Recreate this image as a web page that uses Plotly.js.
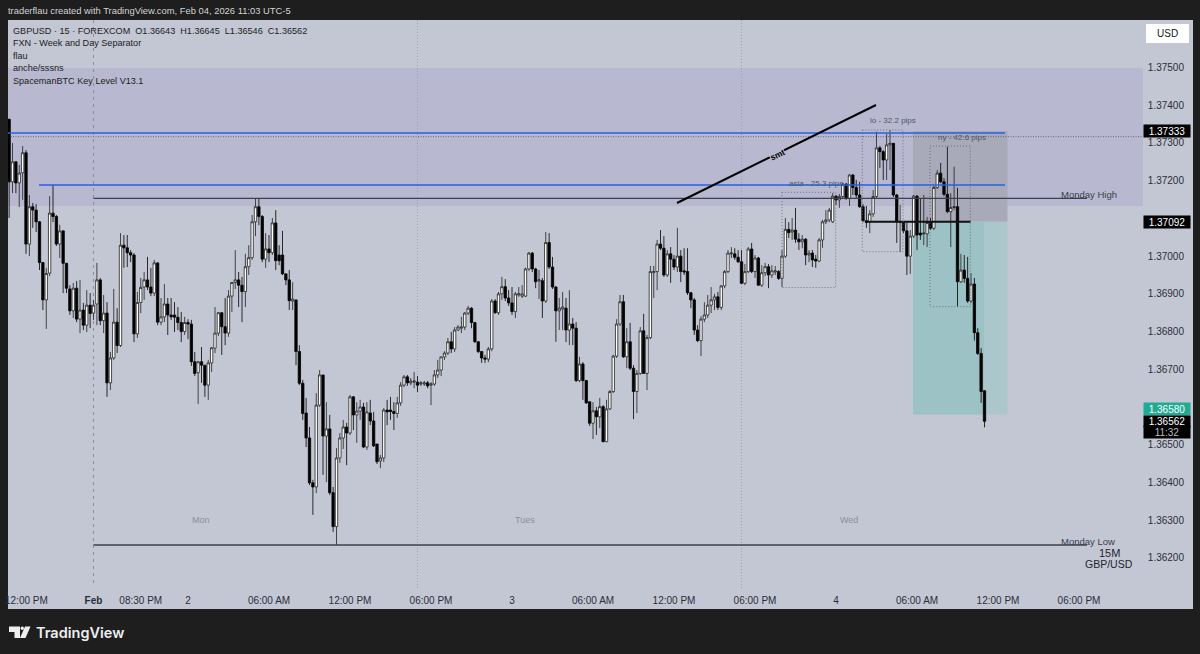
<!DOCTYPE html>
<html><head><meta charset="utf-8">
<script src="https://cdn.plot.ly/plotly-3.0.1.min.js"></script>
<style>html,body{margin:0;padding:0;background:#1e1e1e}#c{width:1200px;height:654px}</style>
</head><body><div id="c"></div>
<script>
// Candles in price points (1e-5), first bar = Friday, bar 0 = Sunday open. 15-minute bars.
const firstBar = -25;
const opens = [
137363,137197,137250,137194,137221,137274,137032,137131,137122,137091,
136983,136884,136955,137114,137105,137032,137067,136981,136913,136855,
136915,136833,136857,136817,136870,136849,136873,136937,136829,136849,
136664,136730,136825,136763,137029,137022,137009,137003,136794,136877,
136918,136937,136918,136902,136982,136825,136839,136873,136844,136844,
136838,136824,136800,136824,136820,136720,136691,136720,136711,136658,
136717,136756,136796,136850,136813,136796,136894,136930,136937,136923,
136906,136972,136996,137091,137131,137105,136992,137019,137009,137088,
137003,137003,136953,136937,136881,136884,136747,136663,136584,136518,
136399,136388,136605,136685,136523,136542,136373,136283,136465,136518,
136547,136531,136627,136579,136589,136600,136494,136584,136563,136502,
136457,136465,136592,136592,136588,136583,136611,136658,136680,136664,
136666,136666,136661,136661,136664,136658,136661,136685,136698,136733,
136743,136773,136754,136804,136809,136812,136849,136862,136824,136773,
136747,136730,136727,136754,136881,136850,136900,136919,136889,136876,
136853,136897,136894,136894,136966,137008,136966,136934,136935,136881,
137036,136971,136918,136855,136860,136862,136804,136820,136809,136670,
136714,136670,136614,136557,136590,136574,136601,136508,136595,136641,
136735,136820,136879,136733,136773,136703,136641,136689,136802,136689,
136784,136956,136959,137032,137021,136950,137006,136992,136971,137000,
136961,136959,136903,136884,136804,136776,136833,136844,136870,136884,
136892,136864,136921,136959,137006,137006,136997,136985,136928,136959,
137019,136959,136995,136923,136956,136972,136950,136958,136959,136941,
137000,137071,137064,137069,137045,137038,137045,137003,137008,136992,
136987,137043,137091,137096,137091,137159,137149,137158,137191,137153,
137215,137182,137162,137131,137094,137091,137112,137158,137287,137277,
137255,137295,137299,137162,137089,137089,137067,137000,137053,137159,
137061,137059,137059,137091,137074,137182,137220,137197,137164,137118,
137129,137131,136932,136963,136941,136881,136926,136797,136742,136643];
const closes = [
137197,137250,137194,137220,137274,137032,137131,137122,137091,136983,
136884,136954,137114,137105,137032,137067,136981,136915,136855,136915,
136833,136857,136817,136870,136848,136870,136937,136829,136849,136664,
136730,136825,136763,137029,137022,137009,137003,136794,136877,136917,
136937,136918,136902,136982,136825,136839,136873,136844,136839,136838,
136824,136800,136824,136820,136720,136689,136720,136711,136658,136717,
136757,136796,136850,136813,136796,136894,136930,136937,136923,136906,
136972,136996,137091,137131,137105,136992,137019,137009,137088,136988,
136988,136953,136937,136882,136886,136747,136663,136583,136518,136399,
136388,136605,136685,136523,136542,136373,136283,136465,136518,136547,
136531,136627,136579,136589,136600,136494,136587,136563,136497,136455,
136465,136592,136587,136588,136583,136611,136658,136680,136664,136669,
136669,136658,136664,136664,136656,136661,136685,136698,136733,136743,
136773,136754,136804,136812,136812,136849,136862,136824,136773,136747,
136730,136727,136754,136881,136850,136900,136919,136889,136876,136853,
136900,136900,136900,136966,137008,136966,136932,136937,136881,137036,
136971,136918,136855,136862,136865,136804,136820,136809,136670,136714,
136670,136611,136557,136590,136574,136601,136508,136595,136641,136735,
136820,136879,136733,136773,136703,136641,136689,136802,136689,136784,
136959,136959,137032,137021,136950,137006,136992,136971,137000,136959,
136958,136903,136884,136804,136776,136833,136844,136870,136884,136892,
136864,136921,136959,137008,137008,136997,136985,136928,136959,137019,
136959,136995,136923,136956,136972,136950,136961,136961,136941,137000,
137071,137062,137069,137045,137038,137045,137003,137008,136990,136987,
137043,137091,137096,137122,137159,137149,137158,137191,137153,137215,
137182,137162,137131,137094,137089,137112,137158,137287,137277,137255,
137295,137299,137162,137091,137091,137067,137000,137053,137159,137056,
137056,137061,137089,137074,137182,137220,137197,137164,137118,137129,
137131,136932,136963,136941,136881,136926,136797,136742,136641,136562];
const highs = [
137363,137300,137252,137242,137292,137281,137162,137141,137138,137093,
136984,136969,137159,137189,137109,137083,137067,136982,136923,136929,
136934,136937,136876,136910,136902,136884,136982,136942,136897,136878,
136746,136913,136862,137061,137056,137056,137016,137008,136905,136942,
136958,136998,136969,136990,136984,136889,136926,136889,136889,136878,
136865,136852,136839,136833,136831,136746,136722,136759,136711,136725,
136759,136865,136852,136852,136889,136910,136931,137016,136958,136945,
137006,137029,137109,137154,137154,137109,137061,137056,137101,137122,
137029,137067,136953,136963,136931,136884,136764,136672,136624,136547,
136407,136637,136698,136685,136613,136579,136388,136491,136531,136566,
136558,136632,136629,136613,136619,136611,136613,136619,136587,136502,
136473,136597,136619,136627,136613,136627,136666,136685,136685,136677,
136693,136682,136669,136669,136669,136666,136698,136725,136733,136748,
136783,136799,136812,136817,136839,136852,136868,136865,136825,136775,
136748,136738,136759,136886,136886,136905,136945,136939,136910,136918,
136905,136918,136923,136969,137011,137011,136969,136963,136942,137064,
137061,136998,136921,136889,136905,136889,136910,136836,136825,136733,
136719,136672,136614,136613,136600,136624,136605,136619,136645,136738,
136833,136897,136897,136809,136823,136711,136698,136812,136847,136791,
136974,136974,137043,137069,137053,137016,137024,137003,137075,137016,
137021,137021,136905,136889,136817,136841,136878,136897,136918,136900,
136905,136923,136963,137016,137024,137021,137016,137016,136979,137024,
137035,137003,136998,136976,136982,136979,136976,136974,136963,137016,
137101,137090,137101,137128,137061,137056,137048,137016,137016,137003,
137048,137096,137122,137128,137167,137162,137165,137194,137194,137218,
137218,137202,137197,137138,137133,137122,137175,137330,137292,137281,
137324,137334,137300,137165,137136,137090,137090,137069,137162,137162,
137154,137162,137104,137101,137186,137228,137247,137207,137290,137167,
137237,137181,137006,137003,136998,136955,136942,136809,136756,136645];
const lows = [
137101,137167,137167,137130,137149,137006,137000,137075,137064,136963,
136857,136807,136947,137090,137027,136995,136902,136902,136844,136836,
136825,136796,136804,136799,136809,136831,136817,136817,136796,136627,
136645,136725,136743,136759,136969,136971,136984,136772,136783,136849,
136884,136910,136894,136894,136817,136817,136825,136791,136831,136799,
136804,136772,136791,136780,136709,136682,136608,136664,136627,136619,
136693,136743,136788,136738,136764,136786,136852,136913,136865,136825,
136865,136950,136990,137053,137082,136984,136969,136984,137003,136963,
136976,136950,136923,136857,136857,136711,136658,136566,136494,136393,
136314,136372,136600,136420,136401,136367,136269,136234,136452,136489,
136446,136526,136539,136505,136566,136491,136486,136552,136494,136449,
136438,136454,136552,136566,136539,136571,136603,136653,136656,136658,
136650,136640,136656,136656,136650,136605,136656,136677,136682,136725,
136738,136743,136746,136802,136796,136804,136844,136809,136770,136743,
136717,136717,136719,136748,136847,136844,136884,136881,136868,136844,
136836,136892,136889,136892,136961,136958,136915,136886,136836,136876,
136966,136913,136773,136804,136804,136772,136764,136764,136666,136666,
136619,136608,136550,136515,136526,136544,136507,136507,136592,136637,
136730,136815,136730,136703,136698,136568,136584,136685,136688,136645,
136780,136889,136910,137016,136945,136945,136929,136963,136958,136931,
136950,136897,136862,136791,136772,136735,136825,136836,136849,136857,
136857,136857,136915,136955,136995,136990,136982,136926,136923,136955,
136955,136942,136921,136918,136947,136915,136942,136950,136937,136918,
136995,137048,137043,137035,137016,137021,136976,136984,136971,136969,
136984,137022,137085,137090,137088,137136,137128,137154,137149,137133,
137162,137154,137128,137090,137075,137061,137104,137154,137234,137202,
137202,137228,137157,137035,137011,137061,136950,136953,137048,137016,
137043,137029,137024,137069,137069,137178,137194,137159,137114,137024,
137122,136866,136929,136929,136876,136876,136776,136738,136611,136546];

const priceTicks = [1.362,1.363,1.364,1.365,1.367,1.368,1.369,1.37,1.372,1.373,1.374,1.375];
const priceTickLabels = ["1.36200","1.36300","1.36400","1.36500","1.36700","1.36800","1.36900","1.37000","1.37200","1.37300","1.37400","1.37500"];
const timeTicks = [0,14,28,52,76,100,124,148,172,196,220,244,268,292];
const timeTickLabels = ["<b>Feb</b>","08:30 PM","2","06:00 AM","12:00 PM","06:00 PM","3","06:00 AM","12:00 PM","06:00 PM","4","06:00 AM","12:00 PM","06:00 PM"];
const legendLines = ["GBPUSD · 15 · FOREXCOM  O1.36643  H1.36645  L1.36546  C1.36562","FXN - Week and Day Separator","flau","anche/sssns","SpacemanBTC Key Level V13.1"];
const headerText = "traderflau created with TradingView.com, Feb 04, 2026 11:03 UTC-5";

const W=1200,H=654,L=8,R=1193,T=20,B=609;
// pixel helpers for the chart's decoration only (not for candles)
const X=px=>(px-93.5)/3.375;
const Y=py=>(137679-2.651*py)/1e5;
const PX=px=>(px-L)/(R-L);
const PY=py=>(B-py)/(B-T);
const font="'Liberation Sans', Arial, sans-serif";

const idx=opens.map((_,k)=>k+firstBar);
const trace={type:'candlestick',x:idx,open:opens.map(v=>v/1e5),high:highs.map(v=>v/1e5),low:lows.map(v=>v/1e5),close:closes.map(v=>v/1e5),
 increasing:{line:{color:'#222',width:0.8},fillcolor:'#ffffff'},
 decreasing:{line:{color:'#000',width:0.8},fillcolor:'#000000'},
 whiskerwidth:0,hoverinfo:'skip',showlegend:false};

const rect=(x0,x1,y0,y1,fill)=>({type:'rect',layer:'below',xref:'x',yref:'y',x0:X(x0),x1:X(x1),y0:Y(y0),y1:Y(y1),fillcolor:fill,line:{width:0}});
const hline=(x0,x1,y,color,width,dash,layer)=>({type:'line',layer:layer||'above',xref:'x',yref:'y',x0:X(x0),x1:X(x1),y0:Y(y),y1:Y(y),line:{color,width,dash:dash||'solid'}});
const vline=(x,y0,y1,color,width,dash)=>({type:'line',layer:'below',xref:'x',yref:'y',x0:X(x),x1:X(x),y0:Y(y0),y1:Y(y1),line:{color,width,dash}});
const dotbox=(x0,x1,y0,y1)=>({type:'rect',layer:'above',xref:'x',yref:'y',x0:X(x0),x1:X(x1),y0:Y(y0),y1:Y(y1),fillcolor:'rgba(0,0,0,0)',line:{color:'#5a5f70',width:0.8,dash:'1px,2px'}});

const shapes=[
 rect(8,1143,68,206,'#b8b9d0'),
 rect(913,1007.5,131,221.7,'#a8a9b9'),
 rect(913,1007.5,221.7,414.6,'#acc7cb'),
 rect(913,984,221.7,414.6,'#9dc2c5'),
 vline(93.5,20,587,'#8a8e9c',1,'3px,4px'),
 vline(417.5,20,590,'#9397a6',0.8,'1px,2px'),
 vline(741.5,20,590,'#9397a6',0.8,'1px,2px'),
 hline(8,1143,136.7,'#4a4e5c',0.8,'1px,1.5px','below'),
 hline(8,1005,133,'#2a5fe0',1.4),
 hline(39,1005,185,'#2a5fe0',1.4),
 hline(93.5,1087,198.3,'#3c3f4c',1.3),
 hline(93.5,1087,545,'#3c3f4c',1.3),
 hline(867,970.5,221.7,'#111',2),
 dotbox(782,835.7,192.3,287.5),
 dotbox(862.3,903,130,251.7),
 dotbox(930,970.3,146,306.7),
 {type:'line',layer:'above',xref:'x',yref:'y',x0:X(677),x1:X(876),y0:Y(203),y1:Y(105),line:{color:'#000',width:2}},
 // USD button
 {type:'rect',layer:'above',xref:'paper',yref:'paper',x0:PX(1146),x1:PX(1189),y0:PY(24),y1:PY(43),fillcolor:'#ffffff',line:{width:0}},
 // TradingView mark
 {type:'path',layer:'above',xref:'paper',yref:'paper',fillcolor:'#eeeeee',line:{width:0},
  path:`M${PX(9)},${PY(626.5)} H${PX(20)} V${PY(638)} H${PX(14.5)} V${PY(632)} H${PX(9)} Z`},
 {type:'circle',layer:'above',xref:'paper',yref:'paper',x0:PX(20.5),x1:PX(24),y0:PY(626.5),y1:PY(630),fillcolor:'#eeeeee',line:{width:0}},
 {type:'path',layer:'above',xref:'paper',yref:'paper',fillcolor:'#eeeeee',line:{width:0},
  path:`M${PX(25)},${PY(626.5)} H${PX(30.5)} L${PX(25.5)},${PY(638)} H${PX(20)} Z`},
];

const txt=(text,px,py,size,color,extra)=>Object.assign({xref:'x',yref:'y',x:X(px),y:Y(py),text,showarrow:false,font:{family:font,size,color},xanchor:'center',yanchor:'middle'},extra||{});
const ptxt=(text,px,py,size,color,extra)=>Object.assign({xref:'paper',yref:'paper',x:PX(px),y:PY(py),text,showarrow:false,font:{family:font,size,color},xanchor:'left',yanchor:'middle',borderpad:0},extra||{});
const tag=(text,py,h,bg,color)=>ptxt(text,1143,py,10,color||'#ffffff',{bgcolor:bg,width:46,height:h,borderpad:0,align:'center',valign:'middle'});

const annotations=[
 ptxt(headerText,7,11,9.4,'#d4d4d4'),
 ...legendLines.map((t,k)=>ptxt(t.replace(/  /g,'\u00a0\u00a0'),11.5,31+12.4*k,9.1,'#1c1c22')),
 ptxt('USD',1167.5,33.5,10,'#131722',{xanchor:'center'}),
 ptxt('TradingView',35,632,14.5,'#eeeeee',{font:{family:"Inter, sans-serif",size:14.5,color:'#eeeeee',weight:600}}),
 ptxt('12:00 PM',26.5,600,10,'#2a2e39',{xanchor:'center'}),
 txt('Mon',201,520,9,'#8a8e9c'),
 txt('Tues',525,520,9,'#8a8e9c'),
 txt('Wed',849,520,9,'#8a8e9c'),
 txt('Monday High',1088.5,194,9.5,'#3a3e4c'),
 txt('Monday Low',1088,541,9.5,'#3a3e4c'),
 txt('15M',1109,553,11,'#22252e'),
 txt('GBP/USD',1109,563.5,10.5,'#22252e'),
 txt('asia - 25.3 pips',816,183,8,'#50556a'),
 txt('lo - 32.2 pips',893,120.7,8,'#50556a'),
 txt('ny - 42.6 pips',962,137,8,'#50556a'),
 txt('<b>smt</b>',777,155,8.5,'#000',{textangle:-26,bgcolor:'#b8b9d0',borderpad:0}),
 tag('1.37333',130.5,12,'#000000'),
 tag('1.37092',221.7,12,'#000000'),
 tag('1.36580',409,12,'#22ab94'),
 tag('1.36562',421,11,'#000000'),
 tag('11:32',432,12,'#000000','#bbbbbb'),
];

const layout={width:W,height:H,margin:{l:L,r:W-R,t:T,b:H-B,pad:0},
 paper_bgcolor:'#1e1e1e',plot_bgcolor:'#c3c7d4',showlegend:false,
 xaxis:{type:'linear',range:[X(L),X(R)],tickmode:'array',tickvals:timeTicks,ticktext:timeTickLabels,showgrid:false,zeroline:false,
  ticks:'',ticklabelposition:'inside',tickfont:{family:font,size:10,color:'#2a2e39'},rangeslider:{visible:false},showline:false,fixedrange:true},
 yaxis:{range:[Y(B),Y(T)],side:'right',tickmode:'array',tickvals:priceTicks,ticktext:priceTickLabels,showgrid:false,zeroline:false,
  ticks:'inside',ticklen:8,tickcolor:'rgba(0,0,0,0)',ticklabelposition:'inside',tickfont:{family:font,size:10,color:'#2a2e39'},showline:false,fixedrange:true},
 boxgap:0,shapes,annotations};
Plotly.newPlot('c',[trace],layout,{displayModeBar:false,staticPlot:true});
</script></body></html>
